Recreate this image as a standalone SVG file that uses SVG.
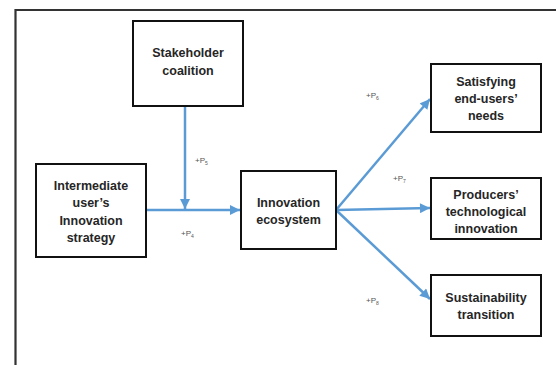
<svg xmlns="http://www.w3.org/2000/svg" width="556" height="365" viewBox="0 0 556 365">
<defs>
<style>
.box{fill:#fff;stroke:#111;stroke-width:2}
.t{font-family:"Liberation Sans",Arial,sans-serif;font-weight:bold;font-size:12.5px;fill:#262626;text-anchor:middle}
.c{stroke:#5b9bd5;stroke-width:2.5;fill:none}
.p{font-family:"Liberation Sans",Arial,sans-serif;font-size:8px;fill:#555}
.s{font-size:5px}
</style>
<marker id="ah" viewBox="0 0 10 10" refX="10" refY="5" markerWidth="4.4" markerHeight="4" orient="auto" markerUnits="strokeWidth">
<path d="M0,0 L10,5 L0,10 z" fill="#5b9bd5"/>
</marker>
</defs>
<rect width="556" height="365" fill="#fff"/>
<path d="M15.5,365 V10 H556" fill="none" stroke="#333" stroke-width="2.2"/>
<g id="connectors">
<line class="c" x1="185" y1="106" x2="185" y2="209" marker-end="url(#ah)"/>
<line class="c" x1="146" y1="210" x2="240" y2="210" marker-end="url(#ah)"/>
<line class="c" x1="336" y1="210" x2="430" y2="99" marker-end="url(#ah)"/>
<line class="c" x1="336" y1="210" x2="430" y2="208" marker-end="url(#ah)"/>
<line class="c" x1="336" y1="210" x2="430" y2="299" marker-end="url(#ah)"/>
</g>
<g id="labels">
<text class="p" x="195" y="163">+P<tspan class="s" dy="2">5</tspan></text>
<text class="p" x="181" y="236">+P<tspan class="s" dy="2">4</tspan></text>
<text class="p" x="366" y="98">+P<tspan class="s" dy="2">6</tspan></text>
<text class="p" x="393" y="181">+P<tspan class="s" dy="2">7</tspan></text>
<text class="p" x="366" y="303">+P<tspan class="s" dy="2">8</tspan></text>
</g>
<g id="stakeholder">
<rect class="box" x="133" y="21" width="110" height="85"/>
<text class="t" x="188" y="57">Stakeholder</text>
<text class="t" x="188" y="75">coalition</text>
</g>
<g id="intermediate">
<rect class="box" x="36" y="164" width="110" height="93"/>
<text class="t" x="91" y="190">Intermediate</text>
<text class="t" x="91" y="207">user’s</text>
<text class="t" x="91" y="225">Innovation</text>
<text class="t" x="91" y="242">strategy</text>
</g>
<g id="ecosystem">
<rect class="box" x="241" y="171" width="95" height="78"/>
<text class="t" x="288.5" y="207">Innovation</text>
<text class="t" x="288.5" y="224">ecosystem</text>
</g>
<g id="satisfying">
<rect class="box" x="431" y="64" width="110" height="68"/>
<text class="t" x="486" y="86">Satisfying</text>
<text class="t" x="486" y="103">end-users’</text>
<text class="t" x="486" y="120">needs</text>
</g>
<g id="producers">
<rect class="box" x="431" y="178" width="110" height="61"/>
<text class="t" x="486" y="199">Producers’</text>
<text class="t" x="486" y="216">technological</text>
<text class="t" x="486" y="233">innovation</text>
</g>
<g id="sustainability">
<rect class="box" x="431" y="275" width="110" height="61"/>
<text class="t" x="486" y="302">Sustainability</text>
<text class="t" x="486" y="319">transition</text>
</g>
</svg>
